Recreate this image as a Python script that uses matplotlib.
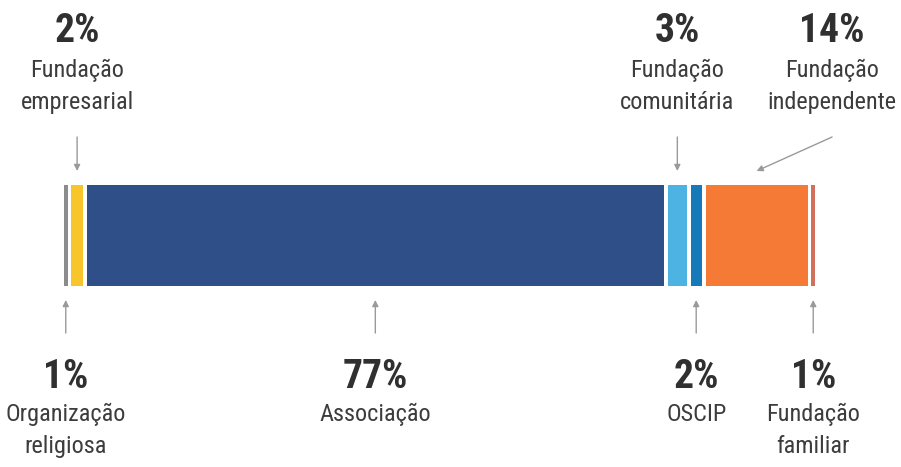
import matplotlib
matplotlib.use("Agg")
import matplotlib.pyplot as plt
from matplotlib.patches import Rectangle

# Distribution of organisations by legal type (%)
categories = [
    "Organização\nreligiosa",
    "Fundação\nempresarial",
    "Associação",
    "Fundação\ncomunitária",
    "OSCIP",
    "Fundação\nindependente",
    "Fundação\nfamiliar",
]
values = [1, 2, 77, 3, 2, 14, 1]
colors = ["#8c8c8c", "#F8C52A", "#2E4F87", "#4DB3E2", "#1679B9", "#F47A35", "#D0705D"]
placement = ["bottom", "top", "bottom", "top", "bottom", "top", "bottom"]
# horizontal shift of a label away from its segment (data units)
label_shift = [0, 0, 0, 0, 0, 10, 0]

plt.rcParams["font.family"] = ["Roboto Condensed", "Liberation Sans Narrow", "Roboto", "DejaVu Sans"]
plt.rcParams["font.stretch"] = "condensed"

W, H = 901, 467
fig = plt.figure(figsize=(W / 100, H / 100), dpi=100)
ax = fig.add_axes([0, 0, 1, 1])

# x in percent, y in a 0..467 vertical frame (top = 0)
x0_px, x100_px = 62, 817
scale = (x100_px - x0_px) / 100.0
ax.set_xlim(-x0_px / scale, (W - x0_px) / scale)
ax.set_ylim(H, 0)
ax.axis("off")

bar_top, bar_bottom = 185, 286
gap = 0.5  # white separation between segments (percent units)

pct_color = "#303030"
lbl_color = "#3c3c3c"
arrow_color = "#9a9a9a"

left = 0.0
for cat, val, col, side, shift in zip(categories, values, colors, placement, label_shift):
    ax.add_patch(Rectangle((left + gap / 2, bar_top), val - gap, bar_bottom - bar_top,
                           facecolor=col, edgecolor="none"))
    cx = left + val / 2
    lx = cx + shift
    lines = cat.split("\n")
    if side == "top":
        ax.text(lx, 42, f"{val}%", ha="center", va="baseline", fontsize=28.5,
                fontweight="bold", color=pct_color, fontstretch="condensed")
        for i, ln in enumerate(lines):
            ax.text(lx, 77 + 32 * i, ln, ha="center", va="baseline", fontsize=17.5,
                    color=lbl_color, fontstretch="condensed")
        ax.annotate("", xy=(cx, 171), xytext=(lx, 137),
                    arrowprops=dict(arrowstyle="-|>", color=arrow_color, lw=1.0,
                                    mutation_scale=9, shrinkA=0, shrinkB=0))
    else:
        ax.text(lx, 388, f"{val}%", ha="center", va="baseline", fontsize=28.5,
                fontweight="bold", color=pct_color, fontstretch="condensed")
        for i, ln in enumerate(lines):
            ax.text(lx, 421 + 32 * i, ln, ha="center", va="baseline", fontsize=17.5,
                    color=lbl_color, fontstretch="condensed")
        ax.annotate("", xy=(cx, 300), xytext=(cx, 333),
                    arrowprops=dict(arrowstyle="-|>", color=arrow_color, lw=1.0,
                                    mutation_scale=9, shrinkA=0, shrinkB=0))
    left += val

fig.savefig("out.png", dpi=100, facecolor="white")
